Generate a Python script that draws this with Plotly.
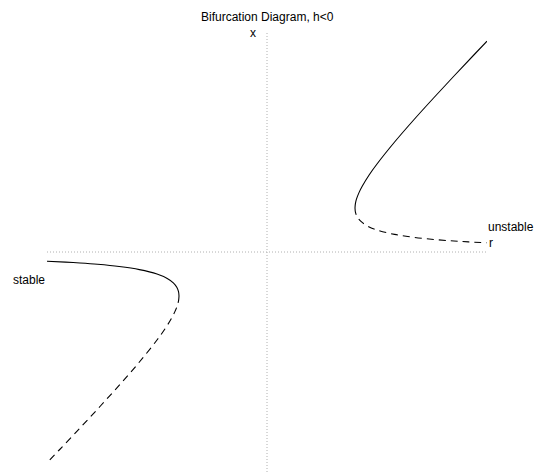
import plotly.graph_objects as go

# Fixed points of x' = h + r*x - x^2 with h = -1, sampled along each branch.
# Upper-right branch (stable, x > sqrt|h|)
r_upper = [2.0, 2.009, 2.033, 2.091, 2.167, 2.321, 2.5, 2.9, 3.333, 3.786, 4.25, 4.722, 5.0]
x_upper = [1.0, 1.1, 1.2, 1.35, 1.5, 1.75, 2.0, 2.5, 3.0, 3.5, 4.0, 4.5, 4.791]

# Lower-right branch (unstable, 0 < x < sqrt|h|)
r_lower = [2.0, 2.011, 2.05, 2.129, 2.267, 2.5, 2.9, 3.36, 3.851, 4.25, 4.578, 5.0]
x_lower = [1.0, 0.9, 0.8, 0.7, 0.6, 0.5, 0.4, 0.33, 0.28, 0.25, 0.23, 0.2087]

# Left branches (mirror images through the origin)
r_left_stable = [-5.0, -4.578, -4.25, -3.851, -3.36, -2.9, -2.5, -2.267, -2.129, -2.05, -2.011, -2.0]
x_left_stable = [-0.2087, -0.23, -0.25, -0.28, -0.33, -0.4, -0.5, -0.6, -0.7, -0.8, -0.9, -1.0]
r_left_unstable = [-2.0, -2.009, -2.033, -2.091, -2.167, -2.321, -2.5, -2.9, -3.333, -3.786, -4.25, -4.722, -5.0]
x_left_unstable = [-1.0, -1.1, -1.2, -1.35, -1.5, -1.75, -2.0, -2.5, -3.0, -3.5, -4.0, -4.5, -4.791]

axis_extent = [-5.0, 5.0]

FONT = "Liberation Sans, Arial, sans-serif"
DOT = "1px,2px"
DASH = "7px,5px"

fig = go.Figure()

# Dotted coordinate axes
fig.add_trace(go.Scatter(x=axis_extent, y=[0, 0], mode="lines",
                         line=dict(color="#b0b0b0", width=1, dash=DOT),
                         hoverinfo="skip", cliponaxis=False))
fig.add_trace(go.Scatter(x=[0, 0], y=axis_extent, mode="lines",
                         line=dict(color="#b0b0b0", width=1, dash=DOT),
                         hoverinfo="skip", cliponaxis=False))

solid = dict(color="black", width=1.1)
dashed = dict(color="black", width=1.1, dash=DASH)

fig.add_trace(go.Scatter(x=r_upper, y=x_upper, mode="lines",
                         line=dict(shape="spline", **solid), cliponaxis=False))
fig.add_trace(go.Scatter(x=r_lower, y=x_lower, mode="lines",
                         line=dict(shape="spline", **dashed), cliponaxis=False))
fig.add_trace(go.Scatter(x=r_left_stable, y=x_left_stable, mode="lines",
                         line=dict(shape="spline", **solid), cliponaxis=False))
fig.add_trace(go.Scatter(x=r_left_unstable, y=x_left_unstable, mode="lines",
                         line=dict(shape="spline", **dashed), cliponaxis=False))

ann_font = dict(family=FONT, size=12, color="black")
annotations = [
    dict(x=0.5, y=1, xref="paper", yref="paper", yanchor="bottom", yshift=6,
         text="Bifurcation Diagram, h<0", showarrow=False, font=ann_font),
    dict(x=-0.32, y=4.98, text="x", showarrow=False, font=ann_font),
    dict(x=5.0, y=0.2, text="r", xanchor="left", showarrow=False, font=ann_font),
    dict(x=-0.041, y=0.436, xref="paper", yref="paper", text="stable",
         xanchor="center", yanchor="middle", showarrow=False, font=ann_font),
    dict(x=1.0545, y=0.557, xref="paper", yref="paper", text="unstable",
         xanchor="center", yanchor="middle", showarrow=False, font=ann_font),
]

fig.update_layout(
    width=534, height=472,
    margin=dict(l=47, r=47, t=32, b=0),
    paper_bgcolor="white", plot_bgcolor="white",
    showlegend=False,
    annotations=annotations,
    xaxis=dict(range=axis_extent, visible=False, fixedrange=True),
    yaxis=dict(range=axis_extent, visible=False, fixedrange=True),
)

fig.write_html("out.html")
